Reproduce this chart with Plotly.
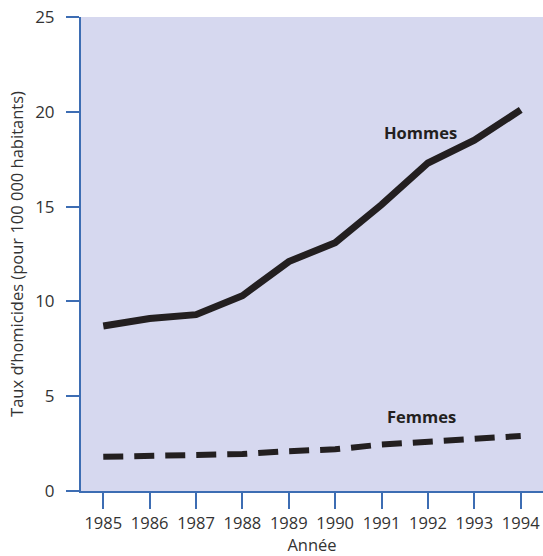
import plotly.graph_objects as go

years = [1985, 1986, 1987, 1988, 1989, 1990, 1991, 1992, 1993, 1994]
hommes = [8.7, 9.1, 9.3, 10.3, 12.1, 13.1, 15.1, 17.3, 18.5, 20.1]
femmes = [1.8, 1.85, 1.9, 1.95, 2.1, 2.2, 2.45, 2.6, 2.8, 2.9]
y_ticks = [0, 5, 10, 15, 20, 25]

axis_color = "#3d6db3"
text_color = "#333333"
font_family = "Open Sans, Noto Sans, sans-serif"

fig = go.Figure()
fig.add_trace(go.Scatter(x=years, y=hommes, mode="lines",
                         line=dict(color="#231f20", width=7), showlegend=False))
fig.add_trace(go.Scatter(x=years, y=femmes, mode="lines",
                         line=dict(color="#231f20", width=6, dash="20px,11px"), showlegend=False))

fig.add_annotation(x=1991.83, y=18.9, xref="x", yref="y", text="<b>Hommes</b>",
                   showarrow=False, font=dict(size=16.5, color="#231f20", family=font_family))
fig.add_annotation(x=1991.85, y=3.95, xref="x", yref="y", text="<b>Femmes</b>",
                   showarrow=False, font=dict(size=16.5, color="#231f20", family=font_family))

fig.update_layout(
    width=543, height=556,
    margin=dict(l=81, r=0, t=17, b=65),
    paper_bgcolor="white",
    plot_bgcolor="#d6d8ef",
    font=dict(family=font_family, color=text_color, size=17),
    xaxis=dict(range=[1984.52, 1994.48], tickvals=years, ticktext=[str(y) for y in years],
               automargin=False, ticklabeloverflow="allow",
               showgrid=False, zeroline=False, showline=True, linecolor=axis_color, linewidth=2,
               ticks="outside", ticklen=16, tickwidth=2, tickcolor=axis_color,
               tickfont=dict(size=16.5, color=text_color),
               title=dict(text="Année", font=dict(size=16.5, color=text_color), standoff=4)),
    yaxis=dict(range=[0, 25], tickvals=y_ticks, showgrid=False, zeroline=False,
               automargin=False, ticklabeloverflow="allow", ticklabelstandoff=8,
               showline=True, linecolor=axis_color, linewidth=2,
               ticks="outside", ticklen=13, tickwidth=2, tickcolor=axis_color,
               tickfont=dict(size=17, color=text_color),
               title=dict(text="Taux d’homicides (pour 100 000 habitants)",
                          font=dict(size=16.5, color=text_color), standoff=7)),
)

fig.write_html("out.html", config={"displayModeBar": False},
               post_script="document.body.style.margin='0';document.body.style.overflow='hidden';")
